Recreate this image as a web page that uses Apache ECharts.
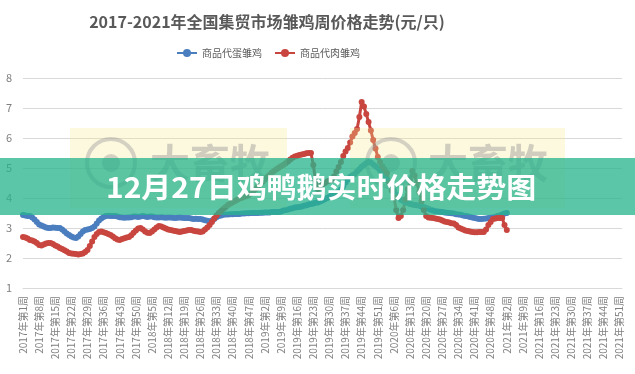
<!DOCTYPE html>
<html><head><meta charset="utf-8">
<script src="https://cdn.jsdelivr.net/npm/echarts@6/dist/echarts.min.js"></script>
<style>html,body{margin:0;padding:0;background:#fff}#c{width:635px;height:374px}</style>
</head><body><div id="c"></div>
<script>
var years = [2017, 2018, 2019, 2020, 2021];
var weeksPerYear = [52, 52, 52, 53, 52];
var seriesNames = ['商品代蛋雏鸡', '商品代肉雏鸡'];
var yTicks = [1, 2, 3, 4, 5, 6, 7, 8];
var layerChicks = [
3.43,3.42,3.40,3.40,3.35,3.28,3.20,3.12,3.08,3.05,
3.02,3.00,3.00,3.02,3.01,3.00,3.00,2.95,2.88,2.82,
2.77,2.72,2.68,2.67,2.72,2.80,2.88,2.93,2.95,2.97,
3.00,3.05,3.15,3.25,3.32,3.37,3.40,3.41,3.40,3.40,
3.40,3.38,3.36,3.35,3.34,3.35,3.35,3.36,3.38,3.38,
3.37,3.38,3.40,3.38,3.37,3.38,3.38,3.36,3.35,3.35,
3.36,3.35,3.34,3.35,3.35,3.34,3.33,3.34,3.35,3.34,
3.33,3.33,3.33,3.32,3.30,3.31,3.30,3.30,3.28,3.26,
3.24,3.22,3.25,3.30,3.36,3.40,3.42,3.44,3.45,3.45,
3.46,3.46,3.47,3.47,3.47,3.48,3.48,3.49,3.49,3.50,
3.50,3.50,3.50,3.51,3.51,3.52,3.52,3.52,3.53,3.53,
3.53,3.53,3.55,3.58,3.60,3.62,3.64,3.66,3.68,3.69,
3.70,3.72,3.74,3.76,3.78,3.80,3.82,3.84,3.85,3.88,
3.92,3.96,4.00,4.04,4.08,4.12,4.16,4.20,4.28,4.40,
4.52,4.62,4.70,4.76,4.80,4.88,4.96,5.04,5.10,5.16,
5.20,5.18,5.12,5.06,5.00,4.92,4.82,4.72,4.60,4.50,
4.38,4.24,4.12,4.00,3.94,3.90,3.86,3.83,3.80,3.78,
3.77,3.76,3.75,3.72,3.70,3.67,3.64,3.61,3.58,3.56,
3.55,3.54,3.53,3.52,3.51,3.50,3.49,3.48,3.46,3.45,
3.44,3.42,3.40,3.39,3.37,3.35,3.33,3.32,3.30,3.30,
3.31,3.32,3.33,3.34,3.35,3.37,3.40,3.42,3.45,3.48,
3.50];
var broilerChicks = [
2.70,2.68,2.65,2.60,2.58,2.55,2.50,2.43,2.42,2.45,
2.48,2.50,2.50,2.47,2.42,2.38,2.33,2.30,2.26,2.22,
2.17,2.15,2.14,2.13,2.12,2.13,2.15,2.20,2.27,2.40,
2.55,2.70,2.80,2.87,2.88,2.86,2.83,2.80,2.77,2.72,
2.66,2.62,2.60,2.63,2.66,2.68,2.70,2.76,2.84,2.92,
2.98,3.00,2.95,2.88,2.84,2.83,2.88,2.95,3.02,3.07,
3.05,3.02,2.98,2.95,2.93,2.92,2.90,2.88,2.87,2.88,
2.90,2.92,2.93,2.93,2.91,2.89,2.88,2.87,2.88,2.95,
3.02,3.10,3.20,3.32,3.42,3.50,3.57,3.64,3.70,3.77,
3.82,3.86,3.90,3.94,3.98,4.01,4.04,4.07,4.10,4.16,
4.22,4.30,4.38,4.46,4.54,4.62,4.70,4.77,4.84,4.90,
4.96,5.01,5.06,5.10,5.16,5.22,5.28,5.34,5.38,5.41,
5.43,5.45,5.47,5.49,5.50,5.50,5.10,4.60,4.30,4.40,
4.45,4.50,4.55,4.58,4.60,4.72,4.88,5.03,5.20,5.40,
5.55,5.67,5.85,6.05,6.17,6.30,6.70,7.20,7.05,6.80,
6.53,6.25,5.93,5.65,5.37,5.20,5.05,4.95,4.83,4.50,
4.25,4.03,3.60,3.33,3.40,3.60,3.95,4.30,4.60,4.90,
4.75,4.50,4.20,3.90,3.60,3.40,3.35,3.34,3.33,3.32,
3.30,3.28,3.25,3.22,3.20,3.18,3.16,3.15,3.10,3.02,
2.98,2.95,2.92,2.90,2.88,2.87,2.86,2.86,2.87,2.87,
2.87,2.95,3.10,3.20,3.30,3.32,3.33,3.33,3.33,3.10,
2.93];

var categories = [];
for (var y = 0; y < years.length; y++) {
  for (var w = 1; w <= weeksPerYear[y]; w++) categories.push(years[y] + '年第' + w + '周');
}

var chart = echarts.init(document.getElementById('c'), null, {renderer: 'canvas'});
var FONT = '"Noto Sans CJK SC", "Noto Sans", sans-serif';
chart.setOption({
  animation: false,
  backgroundColor: '#ffffff',
  title: {
    text: '2017-2021年全国集贸市场雏鸡周价格走势(元/只)',
    left: 262, top: 9, textAlign: 'center',
    textStyle: {fontSize: 16, fontWeight: 'bold', color: '#595959', fontFamily: FONT}
  },
  legend: {
    data: seriesNames, left: 171, top: 43, itemWidth: 20, itemHeight: 10, itemGap: 12,
    textStyle: {fontSize: 10, color: '#595959', fontFamily: FONT}
  },
  grid: {left: 23, right: 13, top: 78, bottom: 86},
  xAxis: {
    type: 'category', data: categories, boundaryGap: false,
    axisLine: {lineStyle: {color: '#d9d9d9'}},
    axisTick: {show: false},
    axisLabel: {interval: 6, rotate: 90, fontSize: 10, color: '#7f7f7f', margin: 8, fontFamily: FONT}
  },
  yAxis: {
    type: 'value', min: yTicks[0], max: yTicks[yTicks.length - 1], interval: 1,
    axisLine: {show: false}, axisTick: {show: false},
    axisLabel: {fontSize: 11, color: '#7f7f7f', margin: 11, fontFamily: FONT},
    splitLine: {lineStyle: {color: '#d9d9d9'}}
  },
  series: [
    {name: seriesNames[0], type: 'line', data: layerChicks, symbol: 'circle', symbolSize: 6,
     showAllSymbol: true, color: '#4a7ebf', lineStyle: {width: 3, color: '#4a7ebf'}, itemStyle: {color: '#4a7ebf'}},
    {name: seriesNames[1], type: 'line', data: broilerChicks, symbol: 'circle', symbolSize: 6,
     showAllSymbol: true, color: '#c8463f', lineStyle: {width: 3, color: '#c8463f'}, itemStyle: {color: '#c8463f'}}
  ],
  graphic: [
    {type: 'rect', z: 100, shape: {x: 70, y: 128, width: 217, height: 80}, style: {fill: 'rgba(248,232,140,0.28)'}},
    {type: 'circle', z: 101, shape: {cx: 111, cy: 163, r: 24}, style: {fill: 'none', stroke: 'rgba(150,150,150,0.4)', lineWidth: 4}},
    {type: 'circle', z: 101, shape: {cx: 111, cy: 163, r: 9}, style: {fill: 'rgba(150,150,150,0.4)'}},
    {type: 'text', z: 101, left: 150, top: 143, style: {text: '大畜牧', font: 'bold 40px ' + FONT, fill: 'rgba(140,140,140,0.4)'}},
    {type: 'rect', z: 100, shape: {x: 350, y: 128, width: 215, height: 80}, style: {fill: 'rgba(248,232,140,0.28)'}},
    {type: 'circle', z: 101, shape: {cx: 391, cy: 163, r: 24}, style: {fill: 'none', stroke: 'rgba(150,150,150,0.4)', lineWidth: 4}},
    {type: 'circle', z: 101, shape: {cx: 391, cy: 163, r: 9}, style: {fill: 'rgba(150,150,150,0.4)'}},
    {type: 'text', z: 101, left: 428, top: 143, style: {text: '大畜牧', font: 'bold 40px ' + FONT, fill: 'rgba(140,140,140,0.4)'}},
    {type: 'rect', z: 110, shape: {x: 0, y: 158, width: 635, height: 57}, style: {fill: 'rgba(40,180,140,0.76)'}},
    {type: 'text', z: 120, x: 106, y: 187, scaleX: 1.07,
     style: {text: '12月27日鸡鸭鹅实时价格走势图', font: 'bold 28px ' + FONT, fill: '#ffffff', textVerticalAlign: 'middle', verticalAlign: 'middle'}}
  ]
});
</script></body></html>
